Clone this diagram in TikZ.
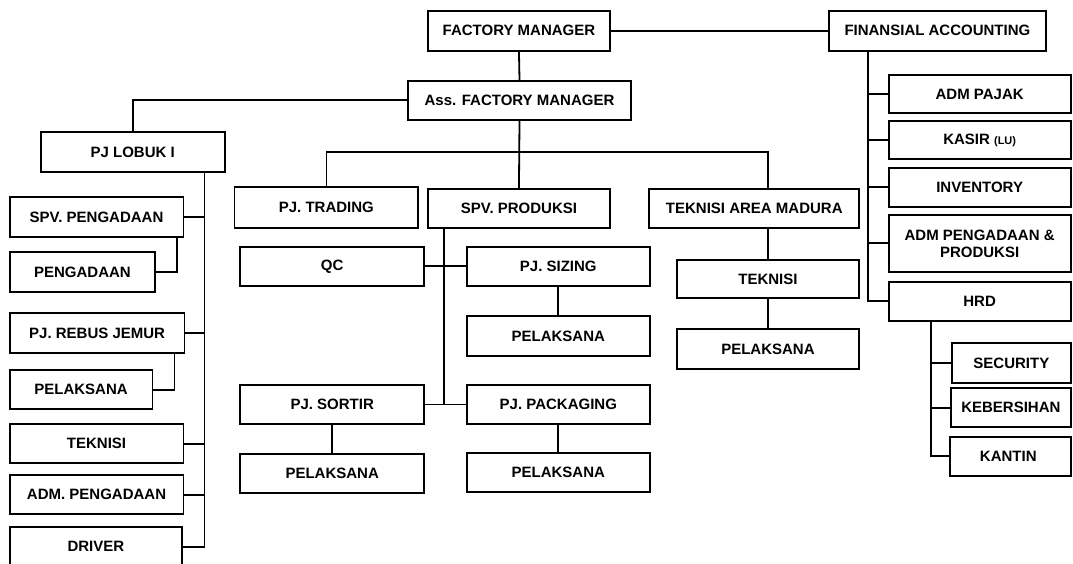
\documentclass[tikz,border=0pt]{standalone}
\usepackage{fontspec}
\setmainfont{Liberation Sans}
\usepackage{tikz}

\begin{document}
\begin{tikzpicture}[x=1pt, y=-1pt,
  unit/.style={draw, line width=1.8pt, inner sep=1pt, align=center,
    font=\fontsize{15}{17}\selectfont\bfseries},
  link/.style={line width=1.8pt}]
  \useasboundingbox (0,0) rectangle (1073,563);
  \foreach \n/\xa/\ya/\xb/\yb/\lbl in {
    fm/427.6/10.7/610.3/50.7/FACTORY MANAGER,
    fa/828.6/10.7/1046.2/50.7/FINANSIAL ACCOUNTING,
    afm/408/80.7/631/120/Ass. FACTORY MANAGER,
    lobuk/40.7/132.3/224.8/172/PJ LOBUK I,
    spvpeng/9.7/197.3/183.4/236.7/SPV. PENGADAAN,
    peng/9.7/252.3/155.2/291.7/PENGADAAN,
    rebus/9.7/313.3/184.5/352.7/PJ. REBUS JEMUR,
    pelrebus/9.7/370/152.4/409.3/PELAKSANA,
    teknisiL/9.7/424.3/183.4/463.3/TEKNISI,
    admpeng/9.7/475/183.4/514.3/ADM. PENGADAAN,
    driver/9.7/526.7/182/566.7/DRIVER,
    trading/234.5/187.3/418.3/227.7/PJ. TRADING,
    spvprod/427.6/189/610.3/228.3/SPV. PRODUKSI,
    tam/649.3/189/859.3/228.3/TEKNISI AREA MADURA,
    qc/240.3/246.7/424.1/286/QC,
    sizing/466.9/246.7/649.7/286/PJ. SIZING,
    pelsizing/466.9/316/649.7/356/PELAKSANA,
    sortir/240.3/385/424.1/424/PJ. SORTIR,
    pelsortir/240.3/454/424.1/493.3/PELAKSANA,
    packaging/466.9/385/649.7/424/PJ. PACKAGING,
    pelpack/466.9/453/649.7/492.3/PELAKSANA,
    teknisiR/676.6/260/859.3/298.3/TEKNISI,
    pelteknisi/676.6/329.3/859.3/368.7/PELAKSANA,
    pajak/888.6/75/1070.7/113.3/ADM PAJAK,
    kasir/888.6/120.7/1070.7/159.3/KASIR {\fontsize{11}{12}\selectfont(LU)},
    inventory/888.6/167.7/1070.7/206.7/INVENTORY,
    admprod/888.6/215/1070.7/271.7/ADM PENGADAAN \& \\ PRODUKSI,
    hrd/888.6/281.7/1070.7/320.7/HRD,
    security/952/343.3/1070.7/382.7/SECURITY,
    kebersihan/951/388.3/1070.7/427.3/KEBERSIHAN,
    kantin/950/436.7/1070.7/476/KANTIN
  } {
    \pgfmathsetmacro{\cx}{(\xa+\xb)/2}
    \pgfmathsetmacro{\cy}{(\ya+\yb)/2}
    \node[unit, minimum width=\xb pt-\xa pt, minimum height=\yb pt-\ya pt]
      (\n) at (\cx,\cy) {\lbl};
  }
  \coordinate (lspine) at (204.5,0);
  \coordinate (pspine) at (444.1,0);
  \coordinate (rspine) at (868,0);
  \coordinate (hspine) at (931,0);
  \coordinate (midbar) at (517,151.7);

  \draw[link] (fm.east) -- (fa.west);
  \draw[link] (fm.south) -- (afm.north);
  \draw[link] (afm.west) -| (lobuk.north);
  \draw[link] (afm.south) -- (spvprod.north);
  \draw[link] (trading.north) |- (midbar) -| (tam.north -| teknisiR.north);
  \draw[link] (tam.south -| teknisiR.north) -- (teknisiR.north);
  \draw[link] (teknisiR.south) -- (pelteknisi.north);

  \draw[link] (lobuk.south -| lspine) |- (driver.east);
  \foreach \n in {spvpeng, rebus, teknisiL, admpeng}
    \draw[link] (\n.east) -- (\n.east -| lspine);
  \draw[link] ([xshift=-7pt]spvpeng.south east) |- (peng.east);
  \draw[link] ([xshift=-11pt]rebus.south east) |- (pelrebus.east);

  \draw[link] (spvprod.south -| pspine) -- (sortir.east -| pspine);
  \draw[link] (qc.east) -- (sizing.west);
  \draw[link] (sortir.east) -- (packaging.west);
  \draw[link] (sizing.south) -- (pelsizing.north);
  \draw[link] (sortir.south) -- (pelsortir.north);
  \draw[link] (packaging.south) -- (pelpack.north);

  \draw[link] (fa.south -| rspine) |- (hrd.west);
  \foreach \n in {pajak, kasir, inventory, admprod}
    \draw[link] (\n.west) -- (\n.west -| rspine);
  \draw[link] (hrd.south -| hspine) |- (kantin.west);
  \foreach \n in {security, kebersihan}
    \draw[link] (\n.west) -- (\n.west -| hspine);
\end{tikzpicture}
\end{document}
